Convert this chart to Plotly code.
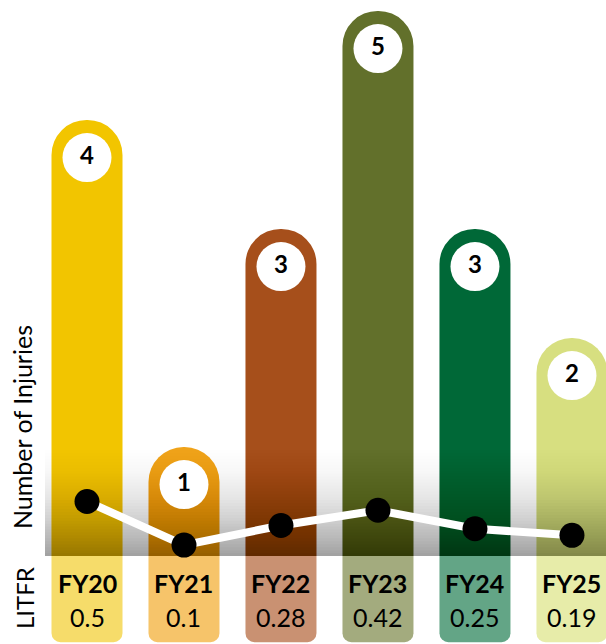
import plotly.graph_objects as go

# ---- data ----
fiscal_years = ["FY20", "FY21", "FY22", "FY23", "FY24", "FY25"]
injuries = [4, 1, 3, 5, 3, 2]
litfr = [0.5, 0.1, 0.28, 0.42, 0.25, 0.19]
litfr_labels = ["0.5", "0.1", "0.28", "0.42", "0.25", "0.19"]

# ---- styles ----
bar_colors = ["#f2c500", "#f0a31a", "#a64f1b", "#62702b", "#006837", "#d7df80"]
box_colors = ["#f6dc6a", "#f6c46a", "#c99172", "#a3ab7e", "#63a586", "#e7eca9"]
FONT = "Lato"
BOX_DEPTH = 0.79
LABEL_OFFSET = 0.345
Y_MIN, Y_MAX = -0.807, 5.10
X_MIN, X_MAX = -0.897, 5.351
SHADOW_TOP = 1.08
SHADOW_STEPS = 40
SHADOW_MAX = 0.34

pos = list(range(len(fiscal_years)))  # category positions on the x axis

fig = go.Figure()

# injury bars with rounded tops
fig.add_trace(go.Bar(
    x=pos, y=injuries, width=0.732,
    marker=dict(color=bar_colors, line=dict(width=0), cornerradius="50%"),
    hoverinfo="skip",
))

# LITFR label boxes under the bars
fig.add_trace(go.Bar(
    x=pos, y=[-BOX_DEPTH] * len(fiscal_years), width=0.732,
    marker=dict(color=box_colors, line=dict(width=0), cornerradius=9),
    hoverinfo="skip",
))

# soft shadow band at the bottom: nested translucent layers form a vertical fade
sx0 = (45 - 87) / 97


def shade(t):
    return SHADOW_MAX * (1 - t) ** 1.8


trans = [1 - shade((k - 0.5) / SHADOW_STEPS) for k in range(1, SHADOW_STEPS + 1)] + [1.0]
for k in range(SHADOW_STEPS, 0, -1):
    a = 1 - trans[k - 1] / trans[k]
    top = SHADOW_TOP * k / SHADOW_STEPS
    fig.add_trace(go.Scatter(
        x=[sx0, X_MAX, X_MAX, sx0, sx0], y=[0, 0, top, top, 0],
        mode="lines", line=dict(width=0), fill="toself",
        fillcolor=f"rgba(0,0,0,{a:.4f})",
        hoverinfo="skip", showlegend=False,
    ))

# LITFR line
fig.add_trace(go.Scatter(
    x=pos, y=litfr, mode="lines+markers",
    line=dict(color="white", width=8),
    marker=dict(color="black", size=25, line=dict(width=0)),
    hoverinfo="skip",
))

# number bubbles at the top of each bar
fig.add_trace(go.Scatter(
    x=pos, y=[v - LABEL_OFFSET for v in injuries],
    mode="markers+text", text=[str(v) for v in injuries],
    textposition="middle center",
    textfont=dict(family=FONT, size=24, color="black", weight="bold"),
    marker=dict(color="white", size=49, line=dict(width=0)),
    hoverinfo="skip",
))

annotations = []
for p, fy, lab in zip(pos, fiscal_years, litfr_labels):
    annotations.append(dict(x=p, y=-0.25, xref="x", yref="y", text=f"<b>{fy}</b>",
                            showarrow=False, font=dict(family=FONT, size=25, color="black")))
    annotations.append(dict(x=p, y=-0.555, xref="x", yref="y", text=lab,
                            showarrow=False, font=dict(family=FONT, size=25, color="black")))

annotations.append(dict(x=22 / 606, y=1 - 427 / 644, xref="paper", yref="paper",
                        xanchor="center", yanchor="middle",
                        text="Number of Injuries", textangle=-90, showarrow=False,
                        font=dict(family=FONT, size=25, color="black")))
annotations.append(dict(x=24 / 606, y=1 - 598 / 644, xref="paper", yref="paper",
                        xanchor="center", yanchor="middle",
                        text="LITFR", textangle=-90, showarrow=False,
                        font=dict(family=FONT, size=24, color="black")))

fig.update_layout(
    width=606, height=644,
    margin=dict(l=0, r=0, t=0, b=0),
    paper_bgcolor="white", plot_bgcolor="white",
    barmode="overlay", showlegend=False,
    xaxis=dict(range=[X_MIN, X_MAX], visible=False, fixedrange=True,
               tickvals=pos, ticktext=fiscal_years),
    yaxis=dict(range=[Y_MIN, Y_MAX], visible=False, fixedrange=True),
    annotations=annotations,
)

fig.write_html("out.html", config={"displayModeBar": False},
               post_script="document.body.style.margin='0px';document.body.style.overflow='hidden';")
